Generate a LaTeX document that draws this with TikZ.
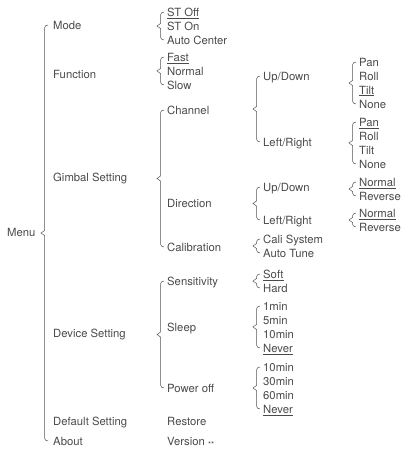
\documentclass[tikz,border=0pt]{standalone}
\usepackage{fontspec}
\setmainfont{TeX Gyre Heros}
\usetikzlibrary{calc}
\definecolor{txtgray}{HTML}{4A4A4A}
\definecolor{linegray}{HTML}{555555}
\newcommand{\brc}[3]{%
\draw[brline] ([xshift=-#3]#1.west) to[out=180,in=90] ++(-3.5pt,-3pt)
  -- ($(#1.west)!.5!(#2.west)+(-#3-3.5pt,2.5pt)$) -- ++(-3.5pt,-2.5pt) -- ++(3.5pt,-2.5pt)
  -- ([xshift=-#3-3.5pt,yshift=3pt]#2.west) to[out=-90,in=180] ++(3.5pt,-3pt);}

\begin{document}
\begin{tikzpicture}[x = 1pt, y = 1pt,
  lbl/.style = {anchor = west, inner sep = 0pt, text height = 8.3pt, text depth = 0pt,
    text = txtgray, font = \fontsize{11.3}{13}\selectfont},
  brline/.style = {draw = linegray, line width = 0.5pt}]
\useasboundingbox (0,0) rectangle (405,-449);
\node[lbl] (v0) at (7,-232) {Menu};
\node[lbl] (v1) at (53,-25) {Mode};
\node[lbl] (v2) at (53,-74) {Function};
\node[lbl] (v3) at (53,-177) {Gimbal Setting};
\node[lbl] (v4) at (53,-333) {Device Setting};
\node[lbl] (v5) at (53,-421) {Default Setting};
\node[lbl] (v6) at (53,-441) {About};
\node[lbl] (v7) at (167,-12) {\underline{ST Off}};
\node[lbl] (v8) at (167,-26) {ST On};
\node[lbl] (v9) at (167,-40) {Auto Center};
\node[lbl] (v10) at (167,-57) {\underline{Fast}};
\node[lbl] (v11) at (167,-71) {Normal};
\node[lbl] (v12) at (167,-85) {Slow};
\node[lbl] (v13) at (167,-110) {Channel};
\node[lbl] (v14) at (167,-203) {Direction};
\node[lbl] (v15) at (167,-247) {Calibration};
\node[lbl] (v16) at (167,-281) {Sensitivity};
\node[lbl] (v17) at (167,-327) {Sleep};
\node[lbl] (v18) at (167,-388) {Power off};
\node[lbl] (v19) at (167,-421) {Restore};
\node[lbl] (v20) at (167,-441) {Version \raisebox{-2.5pt}{\fontsize{8}{9}\selectfont**}};
\node[lbl] (v21) at (263,-76) {Up/Down};
\node[lbl] (v22) at (263,-142) {Left/Right};
\node[lbl] (v23) at (263,-187) {Up/Down};
\node[lbl] (v24) at (263,-220) {Left/Right};
\node[lbl] (v25) at (263,-239) {Cali System};
\node[lbl] (v26) at (263,-253) {Auto Tune};
\node[lbl] (v27) at (263,-274) {\underline{Soft}};
\node[lbl] (v28) at (263,-288) {Hard};
\node[lbl] (v29) at (263,-306) {1min};
\node[lbl] (v30) at (263,-320) {5min};
\node[lbl] (v31) at (263,-334) {10min};
\node[lbl] (v32) at (263,-348) {\underline{Never}};
\node[lbl] (v33) at (263,-367) {10min};
\node[lbl] (v34) at (263,-381) {30min};
\node[lbl] (v35) at (263,-395) {60min};
\node[lbl] (v36) at (263,-409) {\underline{Never}};
\node[lbl] (v37) at (359,-62) {Pan};
\node[lbl] (v38) at (359,-76) {Roll};
\node[lbl] (v39) at (359,-90) {\underline{Tilt}};
\node[lbl] (v40) at (359,-104) {None};
\node[lbl] (v41) at (359,-122) {\underline{Pan}};
\node[lbl] (v42) at (359,-136) {Roll};
\node[lbl] (v43) at (359,-150) {Tilt};
\node[lbl] (v44) at (359,-164) {None};
\node[lbl] (v45) at (359,-182) {\underline{Normal}};
\node[lbl] (v46) at (359,-196) {Reverse};
\node[lbl] (v47) at (359,-213) {\underline{Normal}};
\node[lbl] (v48) at (359,-227) {Reverse};
% braces
\brc{v1}{v6}{5pt}
\brc{v7}{v9}{3pt}
\brc{v10}{v12}{3pt}
\brc{v13}{v15}{3pt}
\brc{v16}{v18}{3pt}
\brc{v21}{v22}{3pt}
\brc{v23}{v24}{3pt}
\brc{v25}{v26}{3pt}
\brc{v27}{v28}{3pt}
\brc{v29}{v32}{3pt}
\brc{v33}{v36}{3pt}
\brc{v37}{v40}{3pt}
\brc{v41}{v44}{3pt}
\brc{v45}{v46}{3pt}
\brc{v47}{v48}{3pt}
\end{tikzpicture}
\end{document}
